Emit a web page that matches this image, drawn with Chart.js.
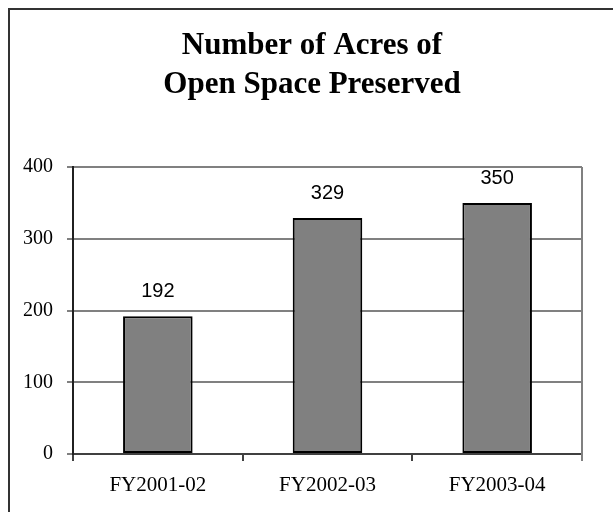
<!DOCTYPE html>
<html>
<head>
<meta charset="utf-8">
<script src="https://cdn.jsdelivr.net/npm/chart.js@4/dist/chart.umd.min.js"></script>
<style>
  body { margin: 0; background: #fff; overflow: hidden; }
  #frame { position: absolute; left: 8px; top: 8px; width: 700px; height: 600px;
           border-left: 2px solid #333; border-top: 2px solid #333; }
  #wrap { position: absolute; left: 0; top: 0; width: 613px; height: 512px; }
</style>
</head>
<body>
<div id="frame"></div>
<div id="wrap"><canvas id="grafico" width="613" height="512"></canvas></div>
<script>
// dados do gráfico
const anosFiscais = ["FY2001-02", "FY2002-03", "FY2003-04"];
const acresPreservados = [192, 329, 350];
const tituloLinhas = ["Number of Acres of", "Open Space Preserved"];

const fonteSerif = "'Liberation Serif', 'Times New Roman', serif";
const fonteSans = "'Liberation Sans', Arial, sans-serif";

// Escreve o valor acima de cada barra
const rotulosValores = {
    id: "rotulosValores",
    afterDatasetsDraw(chart) {
        const ctx = chart.ctx;
        const meta = chart.getDatasetMeta(0);
        ctx.save();
        ctx.font = "20px " + fonteSans;
        ctx.fillStyle = "#000";
        ctx.textAlign = "center";
        ctx.textBaseline = "alphabetic";
        meta.data.forEach((barra, i) => {
            ctx.fillText(String(acresPreservados[i]), barra.x, barra.y - 19);
        });
        ctx.restore();
    }
};

// Borda direita da área do gráfico (cinza)
const bordaDireita = {
    id: "bordaDireita",
    beforeDatasetsDraw(chart) {
        const { ctx, chartArea } = chart;
        ctx.save();
        ctx.strokeStyle = "#808080";
        ctx.lineWidth = 2;
        ctx.beginPath();
        ctx.moveTo(chartArea.right, chartArea.top);
        ctx.lineTo(chartArea.right, chartArea.bottom + 7);
        ctx.stroke();
        ctx.restore();
    }
};

new Chart(document.getElementById("grafico").getContext("2d"), {
    type: "bar",
    data: {
        labels: anosFiscais,
        datasets: [{
            data: acresPreservados,
            backgroundColor: "#808080",
            borderColor: "#000",
            borderWidth: 2,
            borderSkipped: false,
            categoryPercentage: 1,
            barPercentage: 0.41,
        }],
    },
    options: {
        responsive: false,
        animation: false,
        devicePixelRatio: 1,
        // padding esquerdo para centralizar o título como no original
        layout: { padding: { left: 11, right: 0, top: 0, bottom: 0 } },
        plugins: {
            legend: { display: false },
            tooltip: { enabled: false },
            title: {
                display: true,
                text: tituloLinhas,
                color: "#000",
                font: { family: fonteSerif, size: 31, weight: "bold", lineHeight: "39px" },
                padding: { top: 26, bottom: 63 },
            },
        },
        scales: {
            x: {
                grid: {
                    drawOnChartArea: false,
                    tickLength: 7,
                    color: "#404040",
                    lineWidth: 2,
                },
                border: { color: "#404040", width: 2 },
                ticks: {
                    color: "#000",
                    padding: 12,
                    font: { family: fonteSerif, size: 21 },
                },
                afterFit(scale) { scale.height = 58; },
            },
            y: {
                min: 0,
                max: 400,
                ticks: {
                    stepSize: 100,
                    color: "#000",
                    padding: 14,
                    font: { family: fonteSerif, size: 20 },
                },
                grid: {
                    color: "#808080",
                    lineWidth: 2,
                    tickLength: 6,
                },
                border: { color: "#202020", width: 2 },
                afterFit(scale) { scale.width = 62; },
            },
            // eixo vazio só para reservar a margem direita
            margemDireita: {
                position: "right",
                ticks: { display: false },
                grid: { display: false },
                border: { display: false },
                afterFit(scale) { scale.width = 31; },
            },
        },
    },
    plugins: [rotulosValores, bordaDireita],
});
</script>
</body>
</html>
